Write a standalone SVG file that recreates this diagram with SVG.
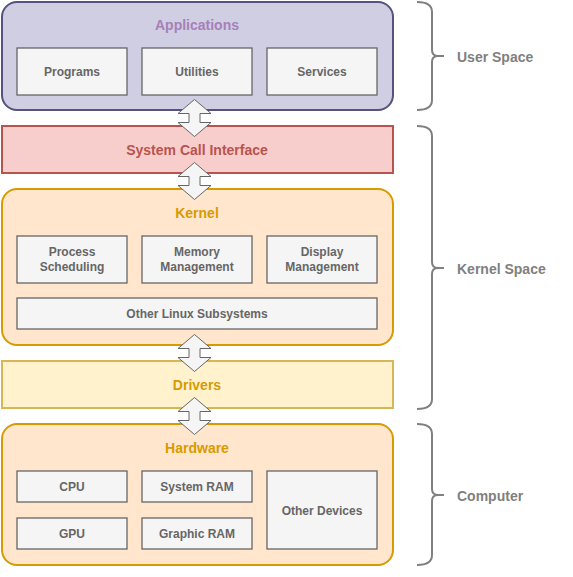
<svg xmlns="http://www.w3.org/2000/svg" width="573" height="577" viewBox="0 0 573 577">
<style>
text{font-family:"Liberation Sans",Arial,sans-serif;font-weight:bold;text-anchor:middle}
.box{fill:#f5f5f5;stroke:#666666;stroke-width:1.3}
.bt{font-size:12px;fill:#666666}
.title{font-size:14px}
.arrow{fill:#f5f5f5;stroke:#666666;stroke-width:1}
.brace{fill:none;stroke:#808080;stroke-width:2}
.bl{font-size:14px;fill:#808080;text-anchor:start}
</style>
<defs>
<path id="dar" d="M0,0 L16.5,14 L5.5,14 L5.5,23 L16.5,23 L0,37 L-16.5,23 L-5.5,23 L-5.5,14 L-16.5,14 Z"/>
</defs>
<g id="applications">
<rect x="2" y="2" width="391" height="108" rx="15" fill="#d0cee2" stroke="#56517e" stroke-width="2"/>
<text class="title" x="197" y="30" fill="#a680b8">Applications</text>
</g>
<g id="programs"><rect class="box" x="17" y="48" width="110" height="47"/><text class="bt" x="72" y="76">Programs</text></g>
<g id="utilities"><rect class="box" x="142" y="48" width="110" height="47"/><text class="bt" x="197" y="76">Utilities</text></g>
<g id="services"><rect class="box" x="267" y="48" width="110" height="47"/><text class="bt" x="322" y="76">Services</text></g>
<g id="syscall">
<rect x="2" y="126" width="391" height="47" fill="#f8cecc" stroke="#b85450" stroke-width="2"/>
<text class="title" x="197" y="155" fill="#b85450">System Call Interface</text>
</g>
<g id="kernel">
<rect x="2" y="189" width="391" height="156" rx="15" fill="#ffe6cc" stroke="#d79b00" stroke-width="2"/>
<text class="title" x="197" y="218" fill="#d79b00">Kernel</text>
</g>
<g id="process"><rect class="box" x="17" y="236" width="110" height="47"/><text class="bt" x="72" y="256">Process</text><text class="bt" x="72" y="271">Scheduling</text></g>
<g id="memory"><rect class="box" x="142" y="236" width="110" height="47"/><text class="bt" x="197" y="256">Memory</text><text class="bt" x="197" y="271">Management</text></g>
<g id="display"><rect class="box" x="267" y="236" width="110" height="47"/><text class="bt" x="322" y="256">Display</text><text class="bt" x="322" y="271">Management</text></g>
<g id="otherlinux"><rect class="box" x="17" y="298" width="360" height="31"/><text class="bt" x="197" y="318">Other Linux Subsystems</text></g>
<g id="drivers">
<rect x="2" y="361" width="391" height="47" fill="#fff2cc" stroke="#d6b656" stroke-width="2"/>
<text class="title" x="197" y="390" fill="#d79b00">Drivers</text>
</g>
<g id="hardware">
<rect x="2" y="424" width="391" height="141" rx="15" fill="#ffe6cc" stroke="#d79b00" stroke-width="2"/>
<text class="title" x="197" y="453" fill="#d79b00">Hardware</text>
</g>
<g id="cpu"><rect class="box" x="17" y="471" width="110" height="31"/><text class="bt" x="72" y="491">CPU</text></g>
<g id="sysram"><rect class="box" x="142" y="471" width="110" height="31"/><text class="bt" x="197" y="491">System RAM</text></g>
<g id="gpu"><rect class="box" x="17" y="518" width="110" height="31"/><text class="bt" x="72" y="538">GPU</text></g>
<g id="graphicram"><rect class="box" x="142" y="518" width="110" height="31"/><text class="bt" x="197" y="538">Graphic RAM</text></g>
<g id="otherdevices"><rect class="box" x="267" y="471" width="110" height="78"/><text class="bt" x="322" y="515">Other Devices</text></g>
<g id="connectors">
<use href="#dar" class="arrow" x="194.5" y="99.5"/>
<use href="#dar" class="arrow" x="194.5" y="162.5"/>
<use href="#dar" class="arrow" x="194.5" y="334.5"/>
<use href="#dar" class="arrow" x="194.5" y="397.5"/>
</g>
<g id="userspace">
<path class="brace" d="M417,2 Q432,2 432,12 V50 Q432,56 438,56 H444 M438,56 Q432,56 432,62 V100 Q432,110 417,110"/>
<text class="bl" x="457" y="62">User Space</text>
</g>
<g id="kernelspace">
<path class="brace" d="M417,126 Q432,126 432,136 V262 Q432,268 438,268 H444 M438,268 Q432,268 432,274 V399 Q432,409 417,409"/>
<text class="bl" x="457" y="274">Kernel Space</text>
</g>
<g id="computer">
<path class="brace" d="M417,424 Q432,424 432,434 V489 Q432,495 438,495 H444 M438,495 Q432,495 432,501 V555 Q432,565 417,565"/>
<text class="bl" x="457" y="501">Computer</text>
</g>
</svg>
